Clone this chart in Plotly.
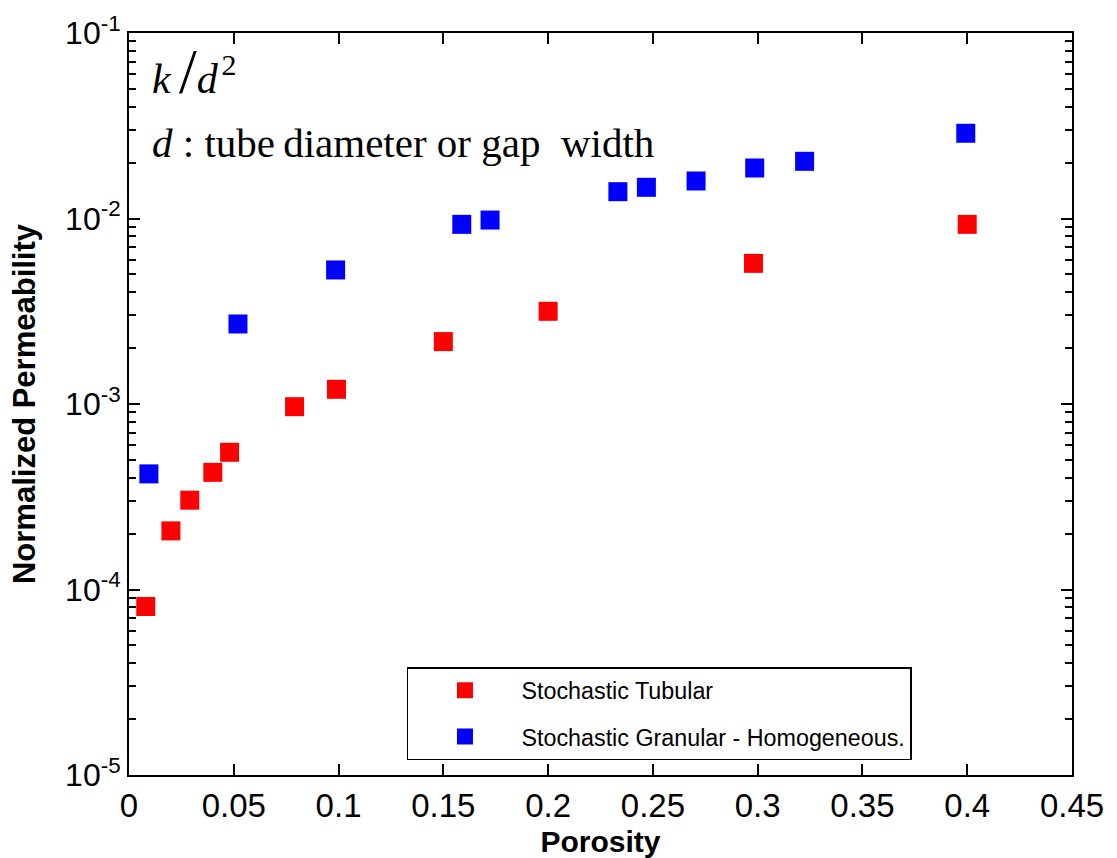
import plotly.graph_objects as go

# Data
tubular_porosity = [0.008, 0.020, 0.029, 0.040, 0.048, 0.079, 0.099, 0.150, 0.200, 0.298, 0.400]
tubular_perm = [8.1e-5, 2.07e-4, 3.03e-4, 4.28e-4, 5.49e-4, 9.67e-4, 1.20e-3, 2.17e-3, 3.16e-3, 5.73e-3, 9.3e-3]

granular_porosity = [0.0095, 0.052, 0.0986, 0.1588, 0.1723, 0.2333, 0.2469, 0.2706, 0.2986, 0.3224, 0.3993]
granular_perm = [4.2e-4, 2.70e-3, 5.28e-3, 9.30e-3, 9.81e-3, 1.395e-2, 1.473e-2, 1.593e-2, 1.872e-2, 2.034e-2, 2.88e-2]

x_ticks = [0, 0.05, 0.1, 0.15, 0.2, 0.25, 0.3, 0.35, 0.4, 0.45]
x_ticktext = ["0", "0.05", "0.1", "0.15", "0.2", "0.25", "0.3", "0.35", "0.4", "0.45"]
y_ticks = [1e-5, 1e-4, 1e-3, 1e-2, 1e-1]
y_ticktext = ["10<sup>-5</sup>", "10<sup>-4</sup>", "10<sup>-3</sup>", "10<sup>-2</sup>", "10<sup>-1</sup>"]

fig = go.Figure()
fig.add_trace(go.Scatter(
    x=tubular_porosity, y=tubular_perm, mode="markers", name="Stochastic Tubular",
    legendgroup="a",
    marker=dict(symbol="square", size=19, color="#FF0000", line=dict(width=0)),
))
fig.add_trace(go.Scatter(
    x=granular_porosity, y=granular_perm, mode="markers", name="Stochastic Granular - Homogeneous.",
    legendgroup="b",
    marker=dict(symbol="square", size=19, color="#0000FF", line=dict(width=0)),
))

fig.update_layout(
    width=1117, height=858,
    margin=dict(l=129, r=45, t=33, b=83),
    paper_bgcolor="white", plot_bgcolor="white",
    showlegend=True,
    legend=dict(
        x=0.8303, y=0.0202, xanchor="right", yanchor="bottom",
        bordercolor="black", borderwidth=1.5, bgcolor="white",
        font=dict(family="Arial, Liberation Sans", size=23.3, color="black"),
        itemwidth=103, tracegroupgap=13,
    ),
    xaxis=dict(
        range=[0, 0.45], tickmode="array", tickvals=x_ticks, ticktext=x_ticktext,
        ticks="inside", ticklen=11, tickwidth=1.5, tickcolor="black",
        showline=True, linewidth=2, linecolor="black", mirror="ticks",
        showgrid=False, zeroline=False, automargin=False,
        tickfont=dict(family="Arial, Liberation Sans", size=33, color="black"),
        title=dict(text="<b>Porosity</b>", font=dict(family="Arial, Liberation Sans", size=30, color="black"), standoff=10),
    ),
    yaxis=dict(
        type="log", range=[-5, -1], tickmode="array", tickvals=y_ticks, ticktext=y_ticktext,
        ticks="inside", ticklen=11, tickwidth=1.5, tickcolor="black",
        minor=dict(ticks="inside", ticklen=7, tickwidth=1.5, tickcolor="black", dtick="D1", showgrid=False),
        showline=True, linewidth=2, linecolor="black", mirror="ticks",
        showgrid=False, zeroline=False, automargin=False,
        tickfont=dict(family="Arial, Liberation Sans", size=32, color="black"),
        title=dict(text="<b>Normalized Permeability</b>", font=dict(family="Arial, Liberation Sans", size=31, color="black"), standoff=20),
    ),
    annotations=[
        dict(text="<i>k</i>\u2009<span style=\"font-size:64px\">/</span><i>d</i>\u200a<sup><span style=\"font-size:30px\">2</span></sup>",
             xref="paper", yref="paper",
             x=0.022, y=0.948, xanchor="left", yanchor="middle", showarrow=False,
             font=dict(family="Liberation Serif, Times New Roman", size=42, color="black")),
        dict(text="<i>d</i> : tube\u2009diameter or gap  width", xref="paper", yref="paper",
             x=0.022, y=0.852, xanchor="left", yanchor="middle", showarrow=False,
             font=dict(family="Liberation Serif, Times New Roman", size=41, color="black")),
    ],
)

fig.write_html("out.html")
